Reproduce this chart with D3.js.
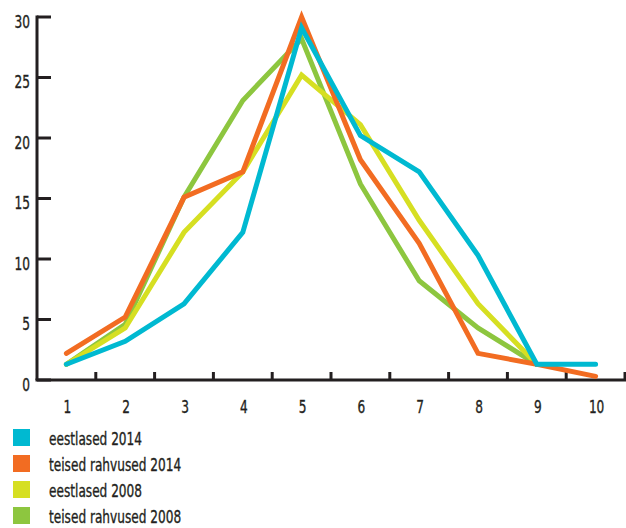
<!DOCTYPE html>
<html>
<head>
<meta charset="utf-8">
<script src="https://cdn.jsdelivr.net/npm/d3@7"></script>
<style>
  body { margin: 0; background: #fff; }
  text { font-family: "DejaVu Sans Condensed", "DejaVu Sans", sans-serif; fill: #231f20; stroke: #231f20; stroke-width: 0.35px; }
</style>
</head>
<body>
<div id="chart"></div>
<script>
// Categories on the x axis
const categories = [1, 2, 3, 4, 5, 6, 7, 8, 9, 10];
const yTicks = [0, 5, 10, 15, 20, 25, 30];

// Series values
const eestlased2014 = [1.3, 3.2, 6.3, 12.2, 29.1, 20.2, 17.2, 10.3, 1.3, 1.3];
const teised2014 = [2.2, 5.2, 15.1, 17.2, 30.0, 18.2, 11.3, 2.2, 1.3, 0.3];
const eestlased2008 = [1.3, 4.3, 12.2, 17.2, 25.2, 21.1, 13.2, 6.3, 1.3, null];
const teised2008 = [1.3, 4.6, 15.1, 23.1, 28.2, 16.2, 8.2, 4.3, 1.3, null];

const seriesNames = ["eestlased 2014", "teised rahvused 2014", "eestlased 2008", "teised rahvused 2008"];
const seriesColors = ["#00b9d1", "#f26c22", "#d6df22", "#8dc63f"];

const series = [
    { name: seriesNames[0], color: seriesColors[0], values: eestlased2014 },
    { name: seriesNames[1], color: seriesColors[1], values: teised2014 },
    { name: seriesNames[2], color: seriesColors[2], values: eestlased2008 },
    { name: seriesNames[3], color: seriesColors[3], values: teised2008 }
];

const W = 626, H = 528;
const axisColor = "#231f20";
const textScale = 0.75;   // squeeze text to mimic the condensed font

const svg = d3.select("#chart").append("svg")
    .attr("width", W)
    .attr("height", H);

// Scales
const x = d3.scaleBand().domain(categories).range([37, 625]);
const y = d3.scaleLinear().domain([0, 30]).range([380, 17]);

// Y axis: vertical line with ticks pointing right
const yAxis = svg.append("g");
yAxis.append("line")
    .attr("x1", 37).attr("x2", 37)
    .attr("y1", y(30) - 1.5).attr("y2", y(0))
    .attr("stroke", axisColor).attr("stroke-width", 3);
yAxis.selectAll("line.tick")
    .data(yTicks)
    .enter()
    .append("line")
    .attr("class", "tick")
    .attr("x1", 37).attr("x2", 51)
    .attr("y1", d => y(d)).attr("y2", d => y(d))
    .attr("stroke", axisColor).attr("stroke-width", 3);
yAxis.selectAll("text")
    .data(yTicks)
    .enter()
    .append("text")
    .attr("transform", d => `translate(30, ${y(d) + 10.5}) scale(${textScale}, 1)`)
    .attr("text-anchor", "end")
    .style("font-size", "18px")
    .text(d => d);

// X axis: horizontal line with ticks at band edges pointing up
const xAxis = svg.append("g");
xAxis.append("line")
    .attr("x1", 37 - 1.5).attr("x2", 626)
    .attr("y1", y(0)).attr("y2", y(0))
    .attr("stroke", axisColor).attr("stroke-width", 3);
xAxis.selectAll("line.tick")
    .data(categories)
    .enter()
    .append("line")
    .attr("class", "tick")
    .attr("x1", d => x(d) + x.bandwidth()).attr("x2", d => x(d) + x.bandwidth())
    .attr("y1", y(0)).attr("y2", y(0) - 8)
    .attr("stroke", axisColor).attr("stroke-width", 3);
xAxis.selectAll("text")
    .data(categories)
    .enter()
    .append("text")
    .attr("transform", d => `translate(${x(d) + x.bandwidth() / 2 + 1}, 413) scale(${textScale}, 1)`)
    .attr("text-anchor", "middle")
    .style("font-size", "18px")
    .text(d => d);

// Line generator
const line = d3.line()
    .defined(d => d.v !== null)
    .x(d => x(d.c) + x.bandwidth() / 2)
    .y(d => y(d.v));

// Draw the lines, 2008 first so the 2014 lines sit on top
svg.append("g")
    .selectAll("path")
    .data(series.slice().reverse())
    .enter()
    .append("path")
    .attr("fill", "none")
    .attr("stroke", d => d.color)
    .attr("stroke-width", 5)
    .attr("stroke-linejoin", "miter")
    .attr("stroke-linecap", "round")
    .attr("d", d => line(d.values.map((v, i) => ({ c: categories[i], v: v }))));

// Legend
const legend = svg.append("g")
    .selectAll("g")
    .data(series)
    .enter()
    .append("g")
    .attr("transform", (d, i) => `translate(13, ${429 + i * 26})`);
legend.append("rect")
    .attr("width", 17)
    .attr("height", 17)
    .attr("fill", d => d.color);
legend.append("text")
    .attr("transform", `translate(36, 16) scale(${textScale}, 1)`)
    .style("font-size", "18px")
    .text(d => d.name);
</script>
</body>
</html>
